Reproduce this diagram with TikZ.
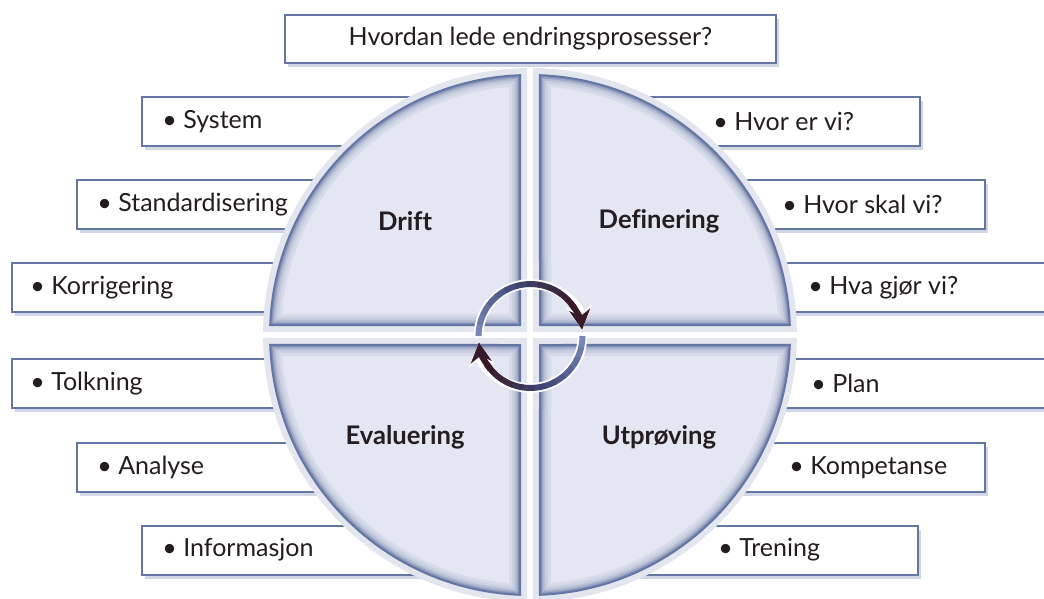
\documentclass[tikz,border=0pt]{standalone}
\usepackage{fontspec}
\setmainfont{Lato}[Ligatures=CommonOff]
\usetikzlibrary{arrows.meta,shadows}
\definecolor{rim}{RGB}{100,118,163}
\definecolor{qfill}{RGB}{228,230,241}
\definecolor{ink}{RGB}{35,28,32}
\definecolor{arcTail}{RGB}{120,134,182}
\definecolor{arcMid}{RGB}{62,72,118}
\definecolor{arcHead}{RGB}{58,26,40}
\newcommand\quarterpath{(10,10) -- (2.2:260) arc[start angle=2.2, end angle=87.8, radius=260] -- cycle}
\begin{document}
\begin{tikzpicture}[x=0.5pt, y=-0.5pt]
    \tikzset{itembox/.style={draw=rim, line width=1pt, fill=white, minimum height=24.5pt, inner sep=0pt,
        drop shadow={shadow xshift=1.5pt, shadow yshift=-2pt, fill=rim, opacity=0.3}}}
    \tikzset{item/.style={anchor=west, inner sep=0pt, text=ink, font=\fontsize{12.5}{15}\selectfont}}
    \tikzset{phase/.style={text=ink, font=\fontsize{12.8}{15}\selectfont\bfseries}}
    \useasboundingbox (0,0) rectangle (1044,599);

    \foreach \name/\x/\y/\w/\tx/\txt in {sys/301/121.5/159/162/System, std/248.5/204.5/171.5/97/Standardisering,
        kor/206/287.5/194/30/Korrigering, tol/206/383.5/194/30/Tolkning,
        ana/248.5/467.5/171.5/97/Analyse, inf/301/550/159/162/Informasjon,
        hve/760/121.5/160/713/Hvor er vi?, hvs/812.5/204.5/172.5/782/Hvor skal vi?,
        hva/860/287.5/200/808/Hva gjør vi?, pla/860/383.5/200/811/Plan,
        kom/812.5/467.5/172.5/789/Kompetanse, tre/759/550/159/718/Trening}{
        \node[itembox, minimum width=\w pt] (\name) at (\x,\y) {};
        \node[item] (\name-t) at (\tx,\y) {• \txt};
    }

    \foreach \r in {0,90,180,270}{
        \begin{scope}[shift={(530,335)}, rotate=\r]
            \draw[rim!18, line width=7pt] \quarterpath;
            \fill[qfill] \quarterpath;
            \begin{scope}
                \clip \quarterpath;
                \foreach \lw/\c in {11/10,8/20,5.5/35,3.5/55,2/75}{
                    \draw[rim!\c!qfill, line width=\lw pt] \quarterpath;
                }
            \end{scope}
            \draw[rim, line width=1pt] \quarterpath;
        \end{scope}
    }

    \node[phase] (dri) at (405,221) {Drift};
    \node[phase] (def) at (659,221) {Definering};
    \node[phase] (eva) at (405,437) {Evaluering};
    \node[phase] (utp) at (659,437) {Utprøving};

    \begin{scope}[shift={(530.5,336)}]
        \foreach \s/\e in {180/353,0/173}{
            \draw[white, line width=4.8pt, -{Stealth[length=12pt,width=13.5pt]}] (\s:52) arc[start angle=\s, end angle=\e, radius=52];
            \foreach \i in {0,...,11}{
                \pgfmathsetmacro\a{\s+(\e-\s-26)*\i/12}
                \pgfmathsetmacro\b{\s+(\e-\s-26)*(\i+1)/12+0.6}
                \pgfmathsetmacro\p{min(100,200*\i/11)}
                \pgfmathsetmacro\q{max(0,200*\i/11-100)}
                \draw[arcHead!\q!arcMid!\p!arcTail, line width=3pt] (\a:52) arc[start angle=\a, end angle=\b, radius=52];
            }
            \pgfmathsetmacro\a{\e-32}
            \draw[arcHead, line width=3pt, -{Stealth[length=10pt,width=10.5pt]}] (\a:52) arc[start angle=\a, end angle=\e, radius=52];
        }
    \end{scope}

    \node[itembox, minimum width=245.5pt, minimum height=24pt, text=ink, font=\fontsize{12.5}{15}\selectfont] (title) at (530.5,39) {Hvordan lede endringsprosesser?};
\end{tikzpicture}
\end{document}
